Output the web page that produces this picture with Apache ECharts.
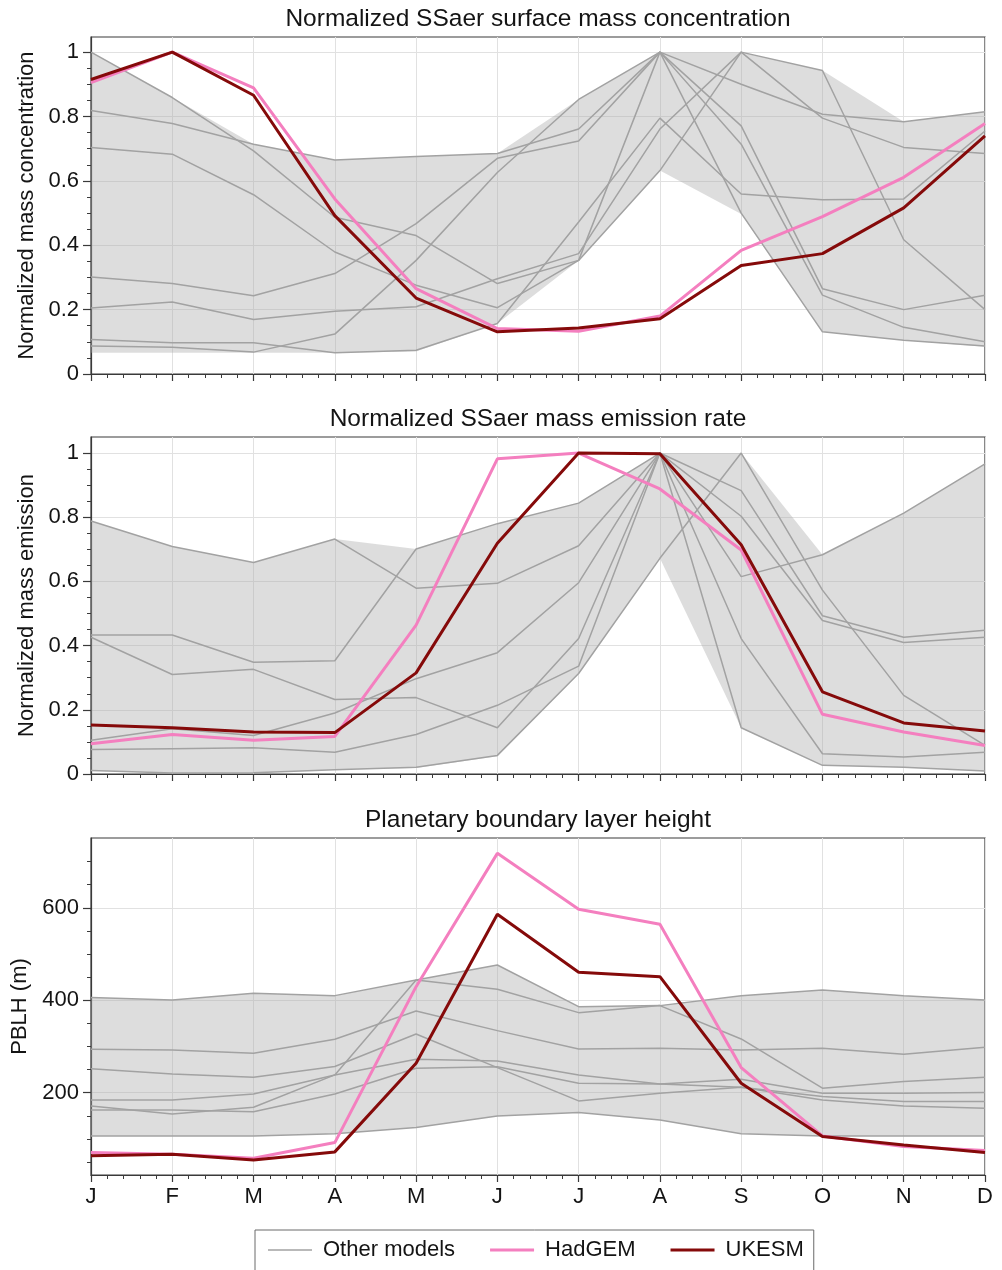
<!DOCTYPE html>
<html><head><meta charset="utf-8">
<script src="https://cdn.jsdelivr.net/npm/echarts@6/dist/echarts.min.js"></script>
<style>html,body{margin:0;padding:0;background:#fff}#c{width:1002px;height:1270px}</style>
</head><body><div id="c"></div>
<script>
// ---------- data ----------
const months = ['J','F','M','A','M','J','J','A','S','O','N','D'];
const panelTitles = ['Normalized SSaer surface mass concentration','Normalized SSaer mass emission rate','Planetary boundary layer height'];
const yAxisNames = ['Normalized mass concentration','Normalized mass emission','PBLH (m)'];
const legendNames = ['Other models','HadGEM','UKESM'];

// Panel 1: normalized surface mass concentration
const conc_HadGEM = [0.905,1.0,0.889,0.544,0.265,0.141,0.133,0.180,0.384,0.489,0.611,0.778];
const conc_UKESM  = [0.915,1.0,0.866,0.492,0.236,0.131,0.143,0.172,0.337,0.374,0.516,0.740];
const conc_m1 = [1.000,0.859,0.693,0.487,0.430,0.281,0.353,1.000,0.500,0.131,0.105,0.087];
const conc_m2 = [0.819,0.778,0.714,0.665,0.676,0.685,0.761,1.000,0.771,0.265,0.200,0.245];
const conc_m3 = [0.704,0.683,0.557,0.379,0.276,0.206,0.353,0.632,1.000,0.943,0.417,0.200];
const conc_m4 = [0.301,0.281,0.243,0.312,0.467,0.670,0.724,1.000,0.714,0.245,0.145,0.100];
const conc_m5 = [0.205,0.224,0.169,0.195,0.209,0.296,0.374,0.761,1.000,0.795,0.704,0.685];
const conc_m6 = [0.107,0.097,0.097,0.066,0.074,0.157,0.472,0.795,0.559,0.541,0.544,0.755];
const conc_m7 = [0.087,0.083,0.068,0.124,0.353,0.626,0.853,1.000,0.900,0.807,0.784,0.815];
const conc_bandLow  = [0.066,0.066,0.066,0.066,0.070,0.157,0.353,0.632,0.497,0.131,0.105,0.085];
const conc_bandHigh = [1.000,0.859,0.714,0.665,0.676,0.685,0.853,1.000,1.000,0.943,0.784,0.815];

// Panel 2: normalized mass emission rate
const emis_HadGEM = [0.094,0.123,0.105,0.117,0.464,0.982,1.000,0.888,0.698,0.186,0.131,0.089];
const emis_UKESM  = [0.153,0.144,0.131,0.129,0.315,0.719,1.000,0.998,0.714,0.256,0.159,0.134];
const emis_m1 = [0.788,0.709,0.659,0.732,0.579,0.594,0.711,1.000,0.615,0.683,0.813,0.966];
const emis_m2 = [0.433,0.433,0.348,0.353,0.701,0.780,0.844,1.000,0.883,0.493,0.426,0.448];
const emis_m3 = [0.426,0.310,0.326,0.232,0.238,0.144,0.422,1.000,0.803,0.478,0.410,0.426];
const emis_m4 = [0.105,0.141,0.120,0.190,0.297,0.378,0.596,1.000,0.422,0.063,0.053,0.068];
const emis_m5 = [0.076,0.079,0.082,0.068,0.123,0.214,0.336,1.000,0.144,0.027,0.021,0.009];
const emis_m6 = [0.011,0.003,0.004,0.013,0.021,0.058,0.313,0.672,1.000,0.573,0.245,0.089];
const emis_bandLow  = [0.011,0.003,0.004,0.013,0.019,0.055,0.313,0.672,0.144,0.027,0.021,0.009];
const emis_bandHigh = [0.788,0.709,0.659,0.732,0.701,0.780,0.844,1.000,1.000,0.683,0.813,0.966];

// Panel 3: planetary boundary layer height (m)
const pblh_HadGEM = [70.5,67,58.4,92.1,429.4,717.8,596.8,564.3,254.3,106.6,83.5,74.8];
const pblh_UKESM  = [63.4,67,54.7,72,263.8,586,460.5,451,220.5,105.1,87,70.5];
const pblh_m1 = [405.7,400.6,415,410,443.9,476.3,386.2,388.4,410,422.3,410,400.6];
const pblh_m2 = [294,292.5,285.4,315.7,376.9,334.3,294.7,296.2,292.5,296.2,283.2,298.4];
const pblh_m3 = [252,240.6,233.5,256.6,327.1,254.3,182.3,198.9,211.9,184.4,171.5,166.5];
const pblh_m4 = [184.4,184.4,197.4,238.5,272.4,268.8,238.5,219,229.2,198.9,198.9,200.2];
const pblh_m5 = [171.5,154,168.6,238.5,443.9,423.8,373.2,388.4,316.3,209.7,224,233.5];
const pblh_m6 = [162.8,162.8,159,197.4,252.9,256,220.5,219,211.9,191.6,180.8,180.8];
const pblh_m7 = [106.6,106.6,106.6,111,124.5,149.8,157,141.2,111,106.6,106.6,106.6];
const pblh_bandLow  = [106.6,106.6,106.6,111,124.5,149.8,157,141.2,111,106.6,106.6,106.6];
const pblh_bandHigh = [405.7,400.6,415,410,443.9,476.3,386.2,388.4,410,422.3,410,400.6];

// tick labels
const yTicksNorm = [0,0.2,0.4,0.6,0.8,1];
const yMinorNorm = [0.05,0.1,0.15,0.25,0.3,0.35,0.45,0.5,0.55,0.65,0.7,0.75,0.85,0.9,0.95];
const yTicksPblh = [200,400,600];
const yMinorPblh = [50,100,150,250,300,350,450,500,550,650,700];

// ---------- chart ----------
const FONT = 'Liberation Sans, Arial, sans-serif';
const TXT = '#141414';
const AX = '#3a3a3a';
const C_OTHER = '#a2a2a2', C_HAD = '#f47fbf', C_UK = '#850a0a';
const panels = [
  {others:[conc_m1,conc_m2,conc_m3,conc_m4,conc_m5,conc_m6,conc_m7], had:conc_HadGEM, uk:conc_UKESM, low:conc_bandLow, high:conc_bandHigh, min:0, max:1.047, ticks:yTicksNorm, minor:yMinorNorm, top:37, gap:49},
  {others:[emis_m1,emis_m2,emis_m3,emis_m4,emis_m5,emis_m6], had:emis_HadGEM, uk:emis_UKESM, low:emis_bandLow, high:emis_bandHigh, min:0, max:1.05, ticks:yTicksNorm, minor:yMinorNorm, top:437, gap:49},
  {others:[pblh_m1,pblh_m2,pblh_m3,pblh_m4,pblh_m5,pblh_m6,pblh_m7], had:pblh_HadGEM, uk:pblh_UKESM, low:pblh_bandLow, high:pblh_bandHigh, min:22, max:751, ticks:yTicksPblh, minor:yMinorPblh, top:838, gap:52}
];
const H = 337;
const grid = [], xAxis = [], yAxis = [], series = [], graphic = [];
const xy = a => a.map((v,k)=>[k,v]);

panels.forEach((p,i)=>{
  grid.push({left:91, right:17, top:p.top, height:H, show:true, borderColor:AX, borderWidth:1.2, backgroundColor:'transparent'});
  xAxis.push({
    type:'value', gridIndex:i, min:0, max:11, interval:1,
    axisLine:{show:true, lineStyle:{color:AX, width:1.2}},
    axisTick:{show:true, length:7, inside:false, lineStyle:{color:AX, width:1.2}},
    minorTick:{show:true, splitNumber:5, length:4, lineStyle:{color:AX, width:1}},
    splitLine:{show:true, lineStyle:{color:'#e1e1e1', width:1}},
    axisLabel:{show:i===2, formatter:v=>months[v], fontSize:22, fontFamily:FONT, color:TXT, margin:11}
  });
  yAxis.push({
    type:'value', gridIndex:i, min:p.min, max:p.max,
    name:yAxisNames[i], nameLocation:'middle', nameGap:p.gap, nameRotate:90,
    nameTextStyle:{fontSize:22, fontFamily:FONT, color:TXT},
    axisLine:{show:true, lineStyle:{color:AX, width:1.2}},
    axisTick:{show:true, length:8, customValues:p.ticks, lineStyle:{color:AX, width:1.2}},
    axisLabel:{show:true, customValues:p.ticks, fontSize:22, fontFamily:FONT, color:TXT, margin:12},
    splitLine:{show:true, lineStyle:{color:'#e1e1e1', width:1}}
  });
  graphic.push({type:'text', x:538, y:p.top-18, style:{text:panelTitles[i], fill:TXT, font:'24.5px '+FONT, textAlign:'center', textVerticalAlign:'middle'}, z:10});
});
// minor y tick axes
panels.forEach((p,i)=>{
  yAxis.push({
    type:'value', gridIndex:i, min:p.min, max:p.max, position:'left',
    axisLine:{show:false}, axisLabel:{show:false}, splitLine:{show:false},
    axisTick:{show:true, length:4, customValues:p.minor, lineStyle:{color:AX, width:1}}
  });
});

panels.forEach((p,i)=>{
  // min-max envelope of other models, drawn as polygon through the axes' coordinate system
  series.push({
    type:'custom', xAxisIndex:i, yAxisIndex:i, silent:true, z:1,
    data:p.low.map((v,k)=>[k, v, p.high[k]]),
    encode:{x:0, y:[1,2]},
    renderItem:(params, api)=>{
      if (params.dataIndex !== 0) return null;
      const pts = [];
      for (let k=0;k<p.high.length;k++) pts.push(api.coord([k, p.high[k]]));
      for (let k=p.low.length-1;k>=0;k--) pts.push(api.coord([k, p.low[k]]));
      return {type:'polygon', shape:{points:pts}, style:{fill:'rgba(169,169,169,0.4)'}};
    }
  });
  p.others.forEach(o=>series.push({name:legendNames[0], type:'line', xAxisIndex:i, yAxisIndex:i, data:xy(o), symbol:'none', showSymbol:false, lineStyle:{color:C_OTHER, width:1.5}, itemStyle:{color:C_OTHER}, z:2}));
  series.push({name:legendNames[1], type:'line', xAxisIndex:i, yAxisIndex:i, data:xy(p.had), symbol:'none', showSymbol:false, lineStyle:{color:C_HAD, width:3}, itemStyle:{color:C_HAD}, z:3});
  series.push({name:legendNames[2], type:'line', xAxisIndex:i, yAxisIndex:i, data:xy(p.uk), symbol:'none', showSymbol:false, lineStyle:{color:C_UK, width:3}, itemStyle:{color:C_UK}, z:4});
});

const chart = echarts.init(document.getElementById('c'), null, {renderer:'canvas'});
chart.setOption({
  animation:false,
  backgroundColor:'#fff',
  grid, xAxis, yAxis, series, graphic,
  legend:{
    data:[
      {name:legendNames[0], icon:'path://M0,0H44V1.6H0Z'},
      {name:legendNames[1], icon:'path://M0,0H44V3.2H0Z'},
      {name:legendNames[2], icon:'path://M0,0H44V3.2H0Z'}
    ],
    left:255, top:1230, orient:'horizontal',
    itemWidth:44, itemHeight:14, itemGap:35, padding:[9,10,30,13],
    itemStyle:{borderWidth:0},
    borderColor:'#6a6a6a', borderWidth:1, selectedMode:false,
    textStyle:{fontSize:22, fontFamily:FONT, color:TXT, padding:[0,0,0,6]}
  }
});
</script></body></html>
